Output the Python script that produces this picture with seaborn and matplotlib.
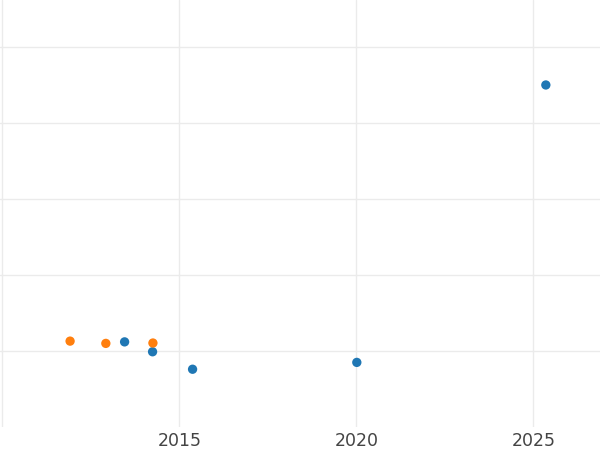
import pandas as pd
import numpy as np
import matplotlib
matplotlib.use("Agg")
import matplotlib.pyplot as plt
import seaborn as sns

# valori (an, valoare relativa)
ani_albastru = [2013.45, 2014.24, 2015.37, 2020.01, 2025.35]
val_albastru = [1.12, 0.99, 0.76, 0.85, 4.50]
ani_portocaliu = [2011.91, 2012.92, 2014.25]
val_portocaliu = [1.13, 1.10, 1.105]
serii = ["A", "B"]

df = pd.DataFrame({
    "an": ani_albastru + ani_portocaliu,
    "valoare": val_albastru + val_portocaliu,
    "serie": [serii[0]] * len(ani_albastru) + [serii[1]] * len(ani_portocaliu),
})

sns.set_style("whitegrid", {"grid.color": "#ebebeb", "axes.edgecolor": "white"})
plt.rcParams['font.family'] = ['DejaVu Sans']

fig = plt.figure(figsize=(6, 4.5), dpi=100)
ax = fig.add_axes([0, 0.0511, 1, 0.9489])

sns.scatterplot(data=df, x="an", y="valoare", hue="serie",
                palette={"A": "#1f77b4", "B": "#ff7f0e"},
                s=45, linewidth=0, legend=False, ax=ax)

ax.set_xlim(2009.93, 2026.88)
ax.set_ylim(0, 5.618)
ax.set_xticks([2010, 2015, 2020, 2025])
ax.set_xticklabels(["", "2015", "2020", "2025"])
ax.set_yticks([1, 2, 3, 4, 5])
ax.set_yticklabels([])
ax.grid(True, lw=1)
ax.tick_params(axis="both", length=0, pad=3.5, labelsize=12.5, labelcolor="#444444")
ax.set_xlabel("")
ax.set_ylabel("")
for s in ax.spines.values():
    s.set_visible(False)

fig.savefig("out.png", dpi=100)
